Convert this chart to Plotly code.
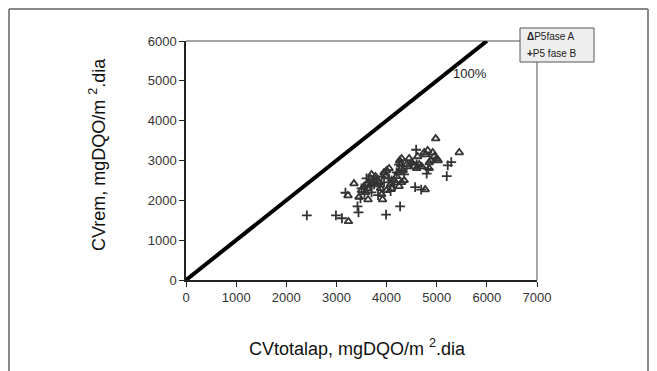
import plotly.graph_objects as go

# Data
fase_a_x = [3240, 3230, 3350, 3450, 3630, 3920, 4980, 5450, 4770,
            3500, 3550, 3580, 3600, 3620, 3680, 3700, 3720, 3750, 3780,
            3800, 3850, 3880, 3900, 3950, 3980, 4000, 4050, 4080, 4100,
            4150, 4200, 4230, 4260, 4280, 4300, 4320, 4350, 4400, 4450,
            4500, 4550, 4600, 4620, 4650, 4700, 4750, 4780, 4820, 4850,
            4880, 4920, 4950, 5000, 5030, 4850, 4250, 4300, 4000]
fase_a_y = [1470, 2120, 2420, 2080, 2020, 2020, 3550, 3200, 2270,
            2250, 2350, 2200, 2400, 2300, 2550, 2650, 2450, 2500, 2600,
            2400, 2450, 2300, 2150, 2700, 2600, 2750, 2800, 2400, 2300,
            2500, 2600, 2700, 3000, 2900, 3050, 2750, 2500, 2900, 3050,
            2950, 2850, 2800, 3100, 2900, 2850, 3200, 3150, 3250, 2950,
            3000, 3200, 3100, 3050, 3000, 2800, 2350, 2450, 2250]

fase_b_x = [2410, 2990, 3110, 3180, 3420, 3440, 3990, 4270, 4590, 4570,
            4690, 4800, 4830, 5220, 5290, 5200,
            3500, 3560, 3600, 3650, 3700, 3750, 3800, 3830, 3870, 3900,
            3950, 4080, 4100, 4150, 4200, 4250, 4300, 4350, 4400, 4500,
            3480, 3700, 4050, 4600]
fase_b_y = [1620, 1620, 1550, 2190, 1850, 1700, 1640, 1850, 3270, 2330,
            2270, 2670, 2790, 2880, 2960, 2610,
            2300, 2200, 2550, 2450, 2350, 2400, 2500, 2130, 2350, 2600,
            2450, 2230, 2500, 2400, 2700, 2900, 2750, 2650, 2800, 2950,
            2050, 2200, 2550, 2900]

line_x = [0, 6000]
line_y = [0, 6000]

x_ticks = [0, 1000, 2000, 3000, 4000, 5000, 6000, 7000]
y_ticks = [0, 1000, 2000, 3000, 4000, 5000, 6000]

series_names = ["P5fase A", "P5 fase B"]

FONT = "Liberation Sans, Arial, sans-serif"
MC = "#333333"

# plot area 351 x 239 px; helpers to convert page pixels to paper coords
def px(x):
    return (x - 186) / 351.0

def py(y):
    return (280 - y) / 239.0

fig = go.Figure()
fig.add_trace(go.Scatter(x=line_x, y=line_y, mode="lines",
                         line=dict(color="black", width=4), showlegend=False,
                         hoverinfo="skip"))
fig.add_trace(go.Scatter(x=fase_a_x, y=fase_a_y, mode="markers", name=series_names[0],
                         showlegend=False,
                         marker=dict(symbol="triangle-up-open", size=7,
                                     color=MC, line=dict(width=1.8, color=MC))))
fig.add_trace(go.Scatter(x=fase_b_x, y=fase_b_y, mode="markers", name=series_names[1],
                         showlegend=False,
                         marker=dict(symbol="cross-thin-open", size=7,
                                     color=MC, line=dict(width=1.8, color=MC))))

fig.update_layout(
    width=649, height=363,
    margin=dict(l=178, r=120, t=33, b=91),
    plot_bgcolor="white", paper_bgcolor="white",
    font=dict(family=FONT, size=13, color="#222"),
    showlegend=False,
    xaxis=dict(range=[0, 7000], tickvals=x_ticks, showgrid=False, zeroline=False,
               showline=True, linecolor="#222", linewidth=1.5,
               ticks="outside", ticklen=5, tickcolor="#222",
               tickfont=dict(size=13, family=FONT, color="#333")),
    yaxis=dict(range=[0, 6000], tickvals=y_ticks, showgrid=False, zeroline=False,
               showline=True, linecolor="#222", linewidth=1.5,
               ticks="outside", ticklen=5, tickcolor="#222",
               tickfont=dict(size=13, family=FONT, color="#333")),
    annotations=[
        dict(x=5658, y=5186, xref="x", yref="y", text="100%", showarrow=False,
             font=dict(size=13, family=FONT, color="#222")),
        dict(x=px(97), y=py(154), xref="paper", yref="paper",
             xanchor="center", yanchor="middle",
             text="CVrem, mgDQO/m <sup>2</sup>.dia", textangle=-90, showarrow=False,
             font=dict(size=18, family=FONT, color="#111")),
        dict(x=px(357), y=py(347), xref="paper", yref="paper",
             xanchor="center", yanchor="middle",
             text="CVtotalap, mgDQO/m <sup>2</sup>.dia", showarrow=False,
             font=dict(size=18, family=FONT, color="#111")),
        # manual legend
        dict(x=px(525), y=py(37), xref="paper", yref="paper",
             xanchor="left", yanchor="middle",
             text="<b>Δ</b>" + series_names[0], showarrow=False,
             font=dict(size=10, family=FONT, color="#222")),
        dict(x=px(525), y=py(53), xref="paper", yref="paper",
             xanchor="left", yanchor="middle",
             text="<b>+</b>" + series_names[1], showarrow=False,
             font=dict(size=10, family=FONT, color="#222")),
    ],
    shapes=[
        # plot-area border (gray top and right)
        dict(type="line", xref="paper", yref="paper", x0=0, x1=1, y0=1, y1=1,
             line=dict(color="#888", width=1.5), layer="below"),
        dict(type="line", xref="paper", yref="paper", x0=1, x1=1, y0=0, y1=1,
             line=dict(color="#888", width=1.5), layer="below"),
        # legend box
        dict(type="rect", xref="paper", yref="paper", x0=px(520), x1=px(594),
             y0=py(62), y1=py(28), fillcolor="#eeeeee",
             line=dict(color="#555", width=1), layer="above"),
        # outer chart frame
        dict(type="line", xref="paper", yref="paper", x0=px(9), x1=px(9),
             y0=py(9), y1=py(380), line=dict(color="#888", width=2)),
        dict(type="line", xref="paper", yref="paper", x0=px(9), x1=px(648),
             y0=py(9), y1=py(9), line=dict(color="#888", width=2)),
        dict(type="line", xref="paper", yref="paper", x0=px(648), x1=px(648),
             y0=py(9), y1=py(380), line=dict(color="#888", width=2)),
    ],
)

fig.write_html("out.html")
